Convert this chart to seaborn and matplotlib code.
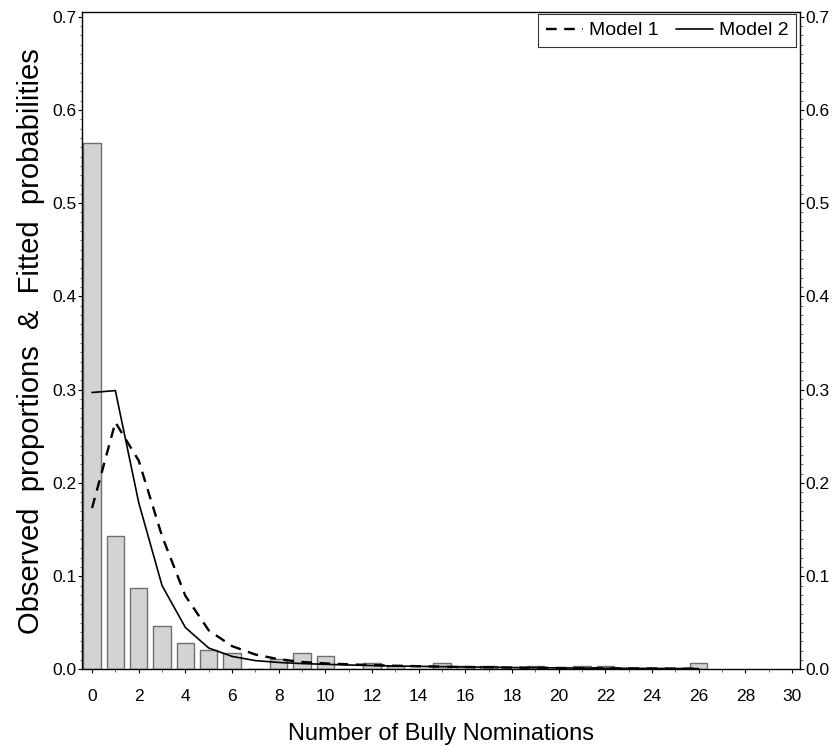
import matplotlib
matplotlib.use("Agg")
import matplotlib.pyplot as plt
from matplotlib.ticker import MultipleLocator
from matplotlib.lines import Line2D
import numpy as np
import pandas as pd
import seaborn as sns

# Observed proportions of bully nominations (0..26)
nominations = list(range(0, 27))
observed = [0.564, 0.143, 0.0875, 0.0464, 0.0286, 0.0214, 0.0179, 0.0, 0.0107,
            0.0179, 0.0143, 0.0, 0.0071, 0.0036, 0.0, 0.0071, 0.0036, 0.0036,
            0.0, 0.0036, 0.0, 0.0036, 0.0036, 0.0, 0.0, 0.0, 0.0071]

# Fitted probabilities from the two count models
model1 = [0.173, 0.265, 0.224, 0.143, 0.079, 0.042, 0.025, 0.016, 0.011,
          0.0080, 0.0065, 0.0055, 0.0047, 0.0040, 0.0035, 0.0030, 0.0026,
          0.0023, 0.0020, 0.0018, 0.0016, 0.0014, 0.0012, 0.0011, 0.0010,
          0.0009, 0.0008]
model2 = [0.297, 0.299, 0.179, 0.090, 0.045, 0.023, 0.014, 0.0095, 0.0075,
          0.0063, 0.0055, 0.0048, 0.0042, 0.0037, 0.0033, 0.0030, 0.0027,
          0.0024, 0.0021, 0.0019, 0.0017, 0.0015, 0.0013, 0.0012, 0.0011,
          0.0010, 0.0009]

xticks = list(range(0, 31, 2))
yticks = [0.0, 0.1, 0.2, 0.3, 0.4, 0.5, 0.6, 0.7]

df = pd.DataFrame({"n": nominations, "observed": observed,
                   "model1": model1, "model2": model2})

DASH = (0, (4.5, 3.2))

sns.set_theme(style="white")
plt.rcParams["font.family"] = ["Liberation Sans", "DejaVu Sans"]
plt.rcParams["text.color"] = "black"
plt.rcParams["axes.labelcolor"] = "black"

fig = plt.figure(figsize=(8.35, 7.48), dpi=100)
ax = fig.add_axes([0.0982, 0.105, 0.8598, 0.879])

sns.barplot(data=df, x="n", y="observed", native_scale=True, width=0.75,
            color="#d3d3d3", saturation=1, edgecolor="#6e6e6e",
            linewidth=1.0, errorbar=None, ax=ax)

n_before = len(ax.lines)
sns.lineplot(data=df, x="n", y="model1", color="black", linewidth=1.7,
             errorbar=None, ax=ax)
for ln in ax.lines[n_before:]:
    ln.set_linestyle(DASH)
sns.lineplot(data=df, x="n", y="model2", color="black", linewidth=1.2,
             errorbar=None, ax=ax)

ax.set_xlim(-0.43, 30.34)
ax.set_ylim(0, 0.705)
ax.set_xticks(xticks)
ax.set_xticklabels([str(t) for t in xticks])
ax.set_yticks(yticks)
ax.set_yticklabels([f"{t:.1f}" for t in yticks])
ax.xaxis.set_minor_locator(MultipleLocator(1))
ax.yaxis.set_minor_locator(MultipleLocator(0.01))

for s in ax.spines.values():
    s.set_color("black")
    s.set_linewidth(1.0)

ax.tick_params(axis="both", which="major", direction="out", length=3,
               width=0.8, color="black", labelsize=12.5, labelcolor="black",
               pad=1.2)
ax.tick_params(axis="both", which="minor", direction="out", length=1.8,
               width=0.6, color="#555555")
ax.tick_params(axis="y", which="both", left=True, right=True,
               labelleft=True, labelright=True)
ax.tick_params(axis="x", which="both", bottom=True, top=False)
ax.tick_params(axis="x", which="major", pad=11)

ax.set_xlabel("Number of Bully Nominations", fontsize=17, labelpad=14,
              color="black")
ax.set_ylabel("Observed  proportions  &  Fitted  probabilities", fontsize=21,
              labelpad=5, color="black")

handles = [Line2D([], [], color="black", linewidth=1.7, linestyle=DASH),
           Line2D([], [], color="black", linewidth=1.2)]
leg = ax.legend(handles, ["Model 1", "Model 2"], ncol=2, loc="upper right",
                bbox_to_anchor=(0.995, 0.997), fontsize=14, frameon=True,
                fancybox=False, handlelength=1.9, handletextpad=0.3,
                columnspacing=0.9, borderpad=0.4, borderaxespad=0.0,
                labelcolor="black")
leg.get_frame().set_edgecolor("black")
leg.get_frame().set_linewidth(0.8)

fig.savefig("out.png", dpi=100)
